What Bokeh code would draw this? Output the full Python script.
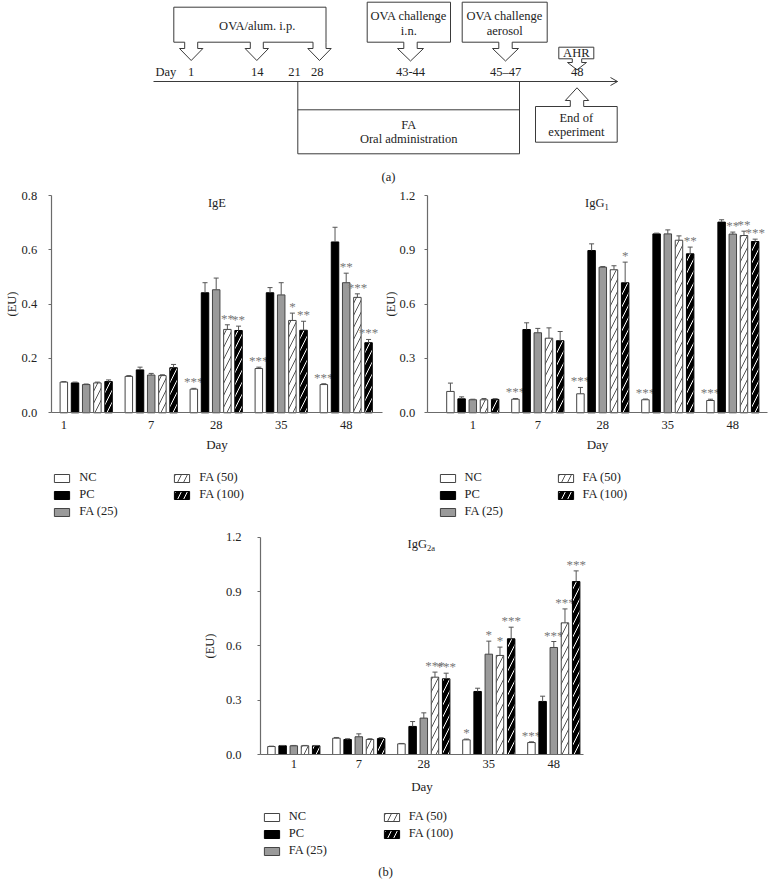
from bokeh.plotting import figure
from bokeh.layouts import column, row
from bokeh.models import (ColumnDataSource, Range1d, FixedTicker, PrintfTickFormatter,
                          Whisker, TeeHead, Legend, LegendItem)
from bokeh.core.properties import value
from bokeh.embed import file_html
from bokeh.resources import INLINE

FONT = "Liberation Serif"

# ---------------- data ----------------
DAYS = ["1", "7", "28", "35", "48"]
GROUPS = ["NC", "PC", "FA (25)", "FA (50)", "FA (100)"]

# IgE (EU): mean, SEM, significance
IGE_NC = [0.113, 0.134, 0.087, 0.163, 0.104]
IGE_PC = [0.110, 0.158, 0.442, 0.442, 0.629]
IGE_FA25 = [0.104, 0.139, 0.453, 0.434, 0.479]
IGE_FA50 = [0.110, 0.137, 0.307, 0.340, 0.425]
IGE_FA100 = [0.115, 0.166, 0.303, 0.304, 0.258]
IGE_NC_SEM = [0.002, 0.003, 0.003, 0.005, 0.003]
IGE_PC_SEM = [0.003, 0.010, 0.037, 0.019, 0.054]
IGE_FA25_SEM = [0.002, 0.006, 0.043, 0.045, 0.035]
IGE_FA50_SEM = [0.003, 0.003, 0.017, 0.027, 0.013]
IGE_FA100_SEM = [0.006, 0.012, 0.016, 0.033, 0.012]
IGE_NC_SIG = ["", "", "***", "***", "***"]
IGE_PC_SIG = ["", "", "", "", ""]
IGE_FA25_SIG = ["", "", "", "", "**"]
IGE_FA50_SIG = ["", "", "**", "*", "***"]
IGE_FA100_SIG = ["", "", "**", "**", "***"]

# IgG1 (EU)
IGG1_NC = [0.118, 0.075, 0.105, 0.072, 0.068]
IGG1_PC = [0.077, 0.460, 0.896, 0.988, 1.053]
IGG1_FA25 = [0.072, 0.442, 0.804, 0.988, 0.987]
IGG1_FA50 = [0.072, 0.412, 0.790, 0.953, 0.979]
IGG1_FA100 = [0.074, 0.398, 0.718, 0.878, 0.946]
IGG1_NC_SEM = [0.046, 0.004, 0.035, 0.004, 0.007]
IGG1_PC_SEM = [0.011, 0.037, 0.037, 0.004, 0.013]
IGG1_FA25_SEM = [0.003, 0.024, 0.004, 0.022, 0.011]
IGG1_FA50_SEM = [0.007, 0.057, 0.022, 0.024, 0.024]
IGG1_FA100_SEM = [0.004, 0.051, 0.114, 0.037, 0.013]
IGG1_NC_SIG = ["", "***", "***", "***", "***"]
IGG1_PC_SIG = ["", "", "", "", ""]
IGG1_FA25_SIG = ["", "", "", "", "**"]
IGG1_FA50_SIG = ["", "", "", "", "**"]
IGG1_FA100_SIG = ["", "", "*", "**", "***"]

# IgG2a (EU)
IGG2A_NC = [0.044, 0.090, 0.059, 0.081, 0.066]
IGG2A_PC = [0.048, 0.083, 0.155, 0.348, 0.293]
IGG2A_FA25 = [0.048, 0.098, 0.201, 0.554, 0.591]
IGG2A_FA50 = [0.048, 0.083, 0.427, 0.547, 0.727]
IGG2A_FA100 = [0.048, 0.088, 0.418, 0.639, 0.955]
IGG2A_NC_SEM = [0.002, 0.004, 0.002, 0.004, 0.004]
IGG2A_PC_SEM = [0.002, 0.004, 0.027, 0.018, 0.029]
IGG2A_FA25_SEM = [0.002, 0.016, 0.029, 0.072, 0.033]
IGG2A_FA50_SEM = [0.002, 0.004, 0.028, 0.046, 0.077]
IGG2A_FA100_SEM = [0.002, 0.005, 0.031, 0.064, 0.059]
IGG2A_NC_SIG = ["", "", "", "*", "***"]
IGG2A_PC_SIG = ["", "", "", "", ""]
IGG2A_FA25_SIG = ["", "", "", "*", "***"]
IGG2A_FA50_SIG = ["", "", "***", "*", "***"]
IGG2A_FA100_SIG = ["", "", "***", "***", "***"]

IGE_TICKS = [0.0, 0.2, 0.4, 0.6, 0.8]
IGG_TICKS = [0.0, 0.3, 0.6, 0.9, 1.2]

# timeline (panel a)
TL_DAY_LABELS = ["1", "14", "21", "28", "43-44", "45\u201347", "48"]

# ---------------- styles / layout ----------------
GROUP_PX = 65.0     # pixels between day groups
PITCH = 0.172       # bar pitch inside a group (group units)
BAR_W = 0.115
AX_COL = "#6b6b6b"
TXT_COL = "#222222"
STAR_COL = "#777777"

STYLES = [
    dict(fill_color="white", line_color="#444444"),
    dict(fill_color="black", line_color="black"),
    dict(fill_color="#9a9a9a", line_color="#444444"),
    dict(fill_color="white", line_color="#444444", hatch_pattern="/",
         hatch_color="#555555", hatch_scale=12, hatch_weight=1),
    dict(fill_color="black", line_color="black", hatch_pattern="/",
         hatch_color="white", hatch_scale=12, hatch_weight=1),
]

LEG_ITEM_H = 15
LEG_SP = 2


def make_chart(cfg):
    fx, fy, w, h = cfg["fig"]
    ax_l, ax_top, ax_r, ax_bot = cfg["axes"]   # page pixels of the axes box
    g0 = cfg["g0"]
    ymax = cfg["ymax"]
    ypx = (ax_bot - ax_top) / ymax

    def dx(px):
        return (px - g0) / GROUP_PX

    def dy(py):
        return (ax_bot - py) / ypx

    p = figure(width=w, height=h, x_range=Range1d(dx(fx), dx(fx + w)),
               y_range=Range1d(dy(fy + h), dy(fy)),
               output_backend="svg", toolbar_location=None, min_border=0)
    p.outline_line_color = None
    p.xgrid.grid_line_color = None
    p.ygrid.grid_line_color = None
    p.background_fill_color = "white"

    renderers = []
    for k in range(5):
        means = cfg["means"][k]
        sems = cfg["sems"][k]
        xs = [i + (k - 2) * PITCH for i in range(len(DAYS))]
        src = ColumnDataSource(dict(x=xs, top=means,
                                    upper=[m + s for m, s in zip(means, sems)],
                                    sig=cfg["sigs"][k]))
        r = p.vbar(x="x", top="top", bottom=0, width=BAR_W, source=src, line_width=1,
                   **STYLES[k])
        renderers.append(r)
        wk = Whisker(source=src, base="x", lower="top", upper="upper", dimension="height",
                     line_color="#555555", line_width=1,
                     upper_head=TeeHead(size=5, line_color="#555555", line_width=1),
                     lower_head=None, level="glyph")
        p.add_layout(wk)
        p.text(x="x", y="upper", text="sig", source=src, text_align="center",
               text_baseline="bottom", text_font=value(FONT), text_font_size="13px",
               text_color=STAR_COL, y_offset=1)

    # title inside the axes box
    tx = dx(cfg["title_px"])
    p.text(x=[tx], y=[ymax], text=[cfg["title"]], text_align="right", text_baseline="middle",
           text_font=value(FONT), text_font_size="12.5px", text_color=TXT_COL,
           x_offset=cfg["title_split"], y_offset=7)
    if cfg["sub"]:
        p.text(x=[tx], y=[ymax], text=[cfg["sub"]], text_align="left", text_baseline="middle",
               text_font=value(FONT), text_font_size="8.5px", text_color=TXT_COL,
               x_offset=cfg["title_split"], y_offset=11)

    # x axis (fixed at y = 0)
    xa = p.xaxis[0]
    xa.fixed_location = 0
    xa.bounds = (dx(ax_l), dx(ax_r))
    ticks = [cfg["first_shift"], 1, 2, 3, 4]
    xa.ticker = FixedTicker(ticks=ticks)
    xa.major_label_overrides = {t: d for t, d in zip(ticks, DAYS)}
    xa.major_tick_out = 0
    xa.major_tick_in = 0
    xa.minor_tick_out = 0
    xa.minor_tick_in = 0
    xa.axis_line_color = AX_COL
    xa.axis_line_width = 1.2
    xa.major_label_standoff = cfg["x_std"]
    xa.major_label_text_font = FONT
    xa.major_label_text_font_size = "12.5px"
    xa.major_label_text_color = TXT_COL
    xa.axis_label = "Day"
    xa.axis_label_standoff = cfg["x_lab_std"]
    xa.axis_label_text_font = FONT
    xa.axis_label_text_font_size = "13px"
    xa.axis_label_text_font_style = "normal"
    xa.axis_label_text_color = TXT_COL

    # y axis (fixed at the left end of the x axis)
    ya = p.yaxis[0]
    ya.fixed_location = dx(ax_l)
    ya.bounds = (0, ymax)
    ya.ticker = FixedTicker(ticks=cfg["yticks"])
    ya.formatter = PrintfTickFormatter(format="%.1f")
    ya.major_tick_out = 3
    ya.major_tick_in = 0
    ya.minor_tick_out = 0
    ya.minor_tick_in = 0
    ya.axis_line_color = AX_COL
    ya.axis_line_width = 1.2
    ya.major_tick_line_color = AX_COL
    ya.major_label_standoff = cfg["y_std"]
    ya.major_label_text_font = FONT
    ya.major_label_text_font_size = "12.5px"
    ya.major_label_text_color = TXT_COL
    ya.axis_label = "(EU)"
    ya.axis_label_standoff = cfg["y_lab_std"]
    ya.axis_label_text_font = FONT
    ya.axis_label_text_font_size = "12.5px"
    ya.axis_label_text_font_style = "normal"
    ya.axis_label_text_color = TXT_COL

    # legend: 3 rows x 2 columns below the plot
    sx, r1y = cfg["leg"]
    leg_h = 3 * LEG_ITEM_H + 2 * LEG_SP
    leg = Legend(items=[LegendItem(label=GROUPS[k], renderers=[renderers[k]]) for k in range(5)],
                 location=(sx - fx, (fy + h) - (r1y - LEG_ITEM_H / 2 + leg_h)),
                 orientation="vertical", nrows=3,
                 glyph_width=19, glyph_height=10, label_standoff=8,
                 label_height=LEG_ITEM_H, label_width=cfg["leg_lw"],
                 label_text_font=FONT, label_text_font_size="12.5px",
                 label_text_color=TXT_COL, spacing=LEG_SP, padding=0, margin=0,
                 border_line_color=None, background_fill_alpha=0)
    p.add_layout(leg)

    for (px, py, t) in cfg.get("notes", []):
        p.text(x=[dx(px)], y=[dy(py)], text=[t], text_align="center", text_baseline="middle",
               text_font=value(FONT), text_font_size="12.5px", text_color=TXT_COL)
    return p


IGE_CFG = dict(fig=(0, 186, 384, 340), axes=(50.7, 195, 382, 412.3), g0=85.7, ymax=0.8,
               yticks=IGE_TICKS, first_shift=-0.345, title="IgE", sub="", title_px=216.5,
               title_split=9,
               means=[IGE_NC, IGE_PC, IGE_FA25, IGE_FA50, IGE_FA100],
               sems=[IGE_NC_SEM, IGE_PC_SEM, IGE_FA25_SEM, IGE_FA50_SEM, IGE_FA100_SEM],
               sigs=[IGE_NC_SIG, IGE_PC_SIG, IGE_FA25_SIG, IGE_FA50_SIG, IGE_FA100_SIG],
               x_std=8, x_lab_std=5, y_std=11, y_lab_std=0,
               leg=(52.3, 477.7), leg_lw=91)

IGG1_CFG = dict(fig=(384, 186, 392, 340), axes=(426.7, 195, 766.7, 412.3), g0=472.3, ymax=1.2,
                yticks=IGG_TICKS, first_shift=0, title="IgG", sub="1", title_px=597,
                title_split=7,
                means=[IGG1_NC, IGG1_PC, IGG1_FA25, IGG1_FA50, IGG1_FA100],
                sems=[IGG1_NC_SEM, IGG1_PC_SEM, IGG1_FA25_SEM, IGG1_FA50_SEM, IGG1_FA100_SEM],
                sigs=[IGG1_NC_SIG, IGG1_PC_SIG, IGG1_FA25_SIG, IGG1_FA50_SIG, IGG1_FA100_SIG],
                x_std=8, x_lab_std=5, y_std=9, y_lab_std=-1,
                leg=(437.5, 477.7), leg_lw=89)

IGG2A_CFG = dict(fig=(0, 526, 776, 363), axes=(260, 536.7, 583, 754), g0=293.3, ymax=1.2,
                 yticks=IGG_TICKS, first_shift=0, title="IgG", sub="2a", title_px=421.5,
                 title_split=5,
                 means=[IGG2A_NC, IGG2A_PC, IGG2A_FA25, IGG2A_FA50, IGG2A_FA100],
                 sems=[IGG2A_NC_SEM, IGG2A_PC_SEM, IGG2A_FA25_SEM, IGG2A_FA50_SEM, IGG2A_FA100_SEM],
                 sigs=[IGG2A_NC_SIG, IGG2A_PC_SIG, IGG2A_FA25_SIG, IGG2A_FA50_SIG, IGG2A_FA100_SIG],
                 x_std=5, x_lab_std=8, y_std=16, y_lab_std=6,
                 leg=(261.7, 816.7), leg_lw=91,
                 notes=[(385, 871.5, "(b)")])

p_ige = make_chart(IGE_CFG)
p_igg1 = make_chart(IGG1_CFG)
p_igg2a = make_chart(IGG2A_CFG)

# ---------------- timeline (panel a) ----------------
tl = figure(width=776, height=186, x_range=Range1d(0, 776), y_range=Range1d(186, 0),
            output_backend="svg", toolbar_location=None, x_axis_type=None, y_axis_type=None,
            min_border=0)
tl.outline_line_color = None
tl.xgrid.grid_line_color = None
tl.ygrid.grid_line_color = None
LC = "#3a3a3a"


def box_down(x0, x1, y0, y1, arrows, sh, hh, yn, yt):
    xs = [x0, x1, x1]
    ys = [y0, y0, y1]
    for cx in sorted(arrows, reverse=True):
        xs += [cx + sh, cx + sh, cx + hh, cx, cx - hh, cx - sh, cx - sh]
        ys += [y1, yn, yn, yt, yn, yn, y1]
    xs += [x0]
    ys += [y1]
    return xs, ys


def box_up(x0, x1, y0, y1, cx, sh, hh, yn, yt):
    xs = [x0, cx - sh, cx - sh, cx - hh, cx, cx + hh, cx + sh, cx + sh, x1, x1, x0]
    ys = [y0, y0, yn, yn, yt, yn, yn, y0, y0, y1, y1]
    return xs, ys


shapes = [
    box_down(173.3, 325.5, 6.7, 41.7, [190.7, 256.3, 319.0], 6.5, 11.7, 48.0, 60.0),
    box_down(366.7, 450.0, 1.7, 41.7, [410.0], 6.7, 13.0, 48.0, 60.5),
    box_down(461.7, 546.7, 1.7, 41.7, [505.0], 6.7, 13.0, 48.0, 60.5),
    box_down(558.3, 593.3, 46.7, 58.3, [576.5], 4.7, 9.5, 62.0, 69.3),
    box_up(535.0, 616.7, 106.0, 141.7, 576.5, 6.7, 11.7, 100.0, 87.3),
]
for xs, ys in shapes:
    tl.patch(xs, ys, fill_color="white", line_color=LC, line_width=1)

# time axis with open arrowhead
tl.line([153, 617], [81, 81], line_color=LC, line_width=1)
tl.line([610, 617, 610], [77, 81, 85], line_color=LC, line_width=1)
# FA bracket
tl.line([297.3, 297.3, 519, 519], [81, 153.3, 153.3, 81], line_color=LC, line_width=1)
tl.line([297.3, 519], [109.3, 109.3], line_color=LC, line_width=1)

TL_LABEL_X = [190.7, 256.7, 294.0, 316.7, 410.0, 505.0, 576.7]
tl.text(x=TL_LABEL_X, y=[71.7] * len(TL_LABEL_X), text=TL_DAY_LABELS, text_align="center",
        text_baseline="middle", text_font=value(FONT), text_font_size="12.5px", text_color=TXT_COL)
tl.text(x=[155], y=[71.7], text=["Day"], text_align="left", text_baseline="middle",
        text_font=value(FONT), text_font_size="12.5px", text_color=TXT_COL)

notes = [
    (256.7, 25.0, "OVA/alum. i.p."),
    (408.3, 15.5, "OVA challenge"), (408.3, 30.0, "i.n."),
    (504.2, 15.5, "OVA challenge"), (504.2, 30.0, "aerosol"),
    (575.8, 52.5, "AHR"),
    (575.8, 117.5, "End of"), (575.8, 131.7, "experiment"),
    (408.2, 124.5, "FA"), (408.2, 138.5, "Oral administration"),
    (388.0, 176.0, "(a)"),
]
tl.text(x=[n[0] for n in notes], y=[n[1] for n in notes], text=[n[2] for n in notes],
        text_align="center", text_baseline="middle", text_font=value(FONT),
        text_font_size="12.5px", text_color=TXT_COL)

layout = column(row(tl), row(p_ige, p_igg1), row(p_igg2a))

open("out.html", "w").write(file_html(layout, INLINE))
